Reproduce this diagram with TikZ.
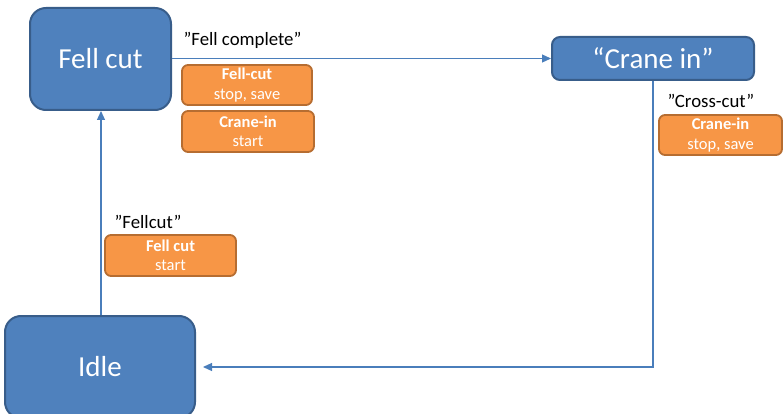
\documentclass[tikz,border=0pt]{standalone}
\usepackage{fontspec}
\setmainfont{Carlito}
\usetikzlibrary{arrows.meta}
\definecolor{bfill}{HTML}{4F81BD}
\definecolor{bdraw}{HTML}{385D8A}
\definecolor{ofill}{HTML}{F79646}
\definecolor{odraw}{HTML}{B66D31}
\definecolor{arr}{HTML}{4A7EBB}
\tikzset{
  state/.style={draw=bdraw, fill=bfill, line width=2pt, rounded corners=16pt, text=white,
    font=\fontsize{29}{35}\selectfont, inner sep=0pt},
  action/.style={draw=odraw, fill=ofill, line width=1.8pt, rounded corners=6pt, text=white,
    font=\fontsize{16.5}{19.5}\selectfont, align=center, inner sep=0pt},
  lbl/.style={font=\fontsize{18.8}{22}\selectfont, text=black, inner sep=0pt},
  conn/.style={draw=arr, line width=1.2pt, -{Triangle[length=9pt,width=8pt]}}
}
\begin{document}
\begin{tikzpicture}[x=1pt,y=-1pt]
\useasboundingbox (0,0) rectangle (784,414);
\clip (0,0) rectangle (784,414);
\node[state, minimum width=141pt, minimum height=102pt] (fell) at (100.5,59) {Fell cut};
\node[state, rounded corners=8pt, minimum width=202pt, minimum height=43pt] (crane) at (653,58.5) {“Crane in”};
\node[state, minimum width=190pt, minimum height=102pt] (idle) at (100,367) {Idle};

\node[action, minimum width=130pt, minimum height=40pt] (o1) at (247,85) {\textbf{Fell-cut}\\stop, save};
\node[action, minimum width=132pt, minimum height=41pt] (o2) at (248,131.5) {\textbf{Crane-in}\\start};
\node[action, minimum width=123pt, minimum height=40pt] (o3) at (720.5,135) {\textbf{Crane-in}\\stop, save};
\node[action, minimum width=131pt, minimum height=41pt] (o4) at (170.5,255.5) {\textbf{Fell cut}\\start};

\node[lbl] (l1) at (242.5,40) {”Fell complete”};
\node[lbl] (l2) at (711,101) {”Cross-cut”};
\node[lbl] (l3) at (148,222) {”Fellcut”};

\coordinate (corner) at (crane.south |- idle.east);
\draw[conn] (fell.east |- crane.west) -- (crane.west);
\draw[conn, shorten >=7pt] (crane.south) -- (corner) -- (idle.east);
\draw[conn] (idle.north -| 101,0) -- (fell.south -| 101,0);
\end{tikzpicture}
\end{document}
